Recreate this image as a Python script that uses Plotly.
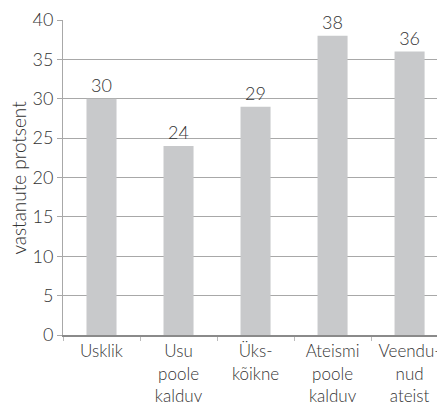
import plotly.graph_objects as go

categories = ["Usklik", "Usu<br>poole<br>kalduv", "Üks-<br>kõikne", "Ateismi<br>poole<br>kalduv", "Veendu-<br>nud<br>ateist"]
values = [30, 24, 29, 38, 36]
y_ticks = [0, 5, 10, 15, 20, 25, 30, 35, 40]
y_title = "vastanute protsent"

FONT = "Lato"
TXT = "#333333"
# the page body adds an 8px margin, so the figure is sized to fill the rest
W, H = 437, 400
L, R, T, B = 55, 0, 12, 73

fig = go.Figure(go.Bar(
    x=categories, y=values, width=0.39,
    marker=dict(color="#c8c9cb", line=dict(width=0)),
    text=[str(v) for v in values], textposition="outside",
    textfont=dict(family=FONT, size=18, color=TXT, weight=300),
    cliponaxis=False,
))

fig.update_layout(
    width=W, height=H,
    margin=dict(l=L, r=R, t=T, b=B, autoexpand=False),
    paper_bgcolor="white", plot_bgcolor="white",
    showlegend=False,
    font=dict(family=FONT, color=TXT, weight=300),
    annotations=[dict(
        text=y_title, textangle=-90, xref="paper", yref="paper",
        x=-45 / (W - L - R), y=0.5, xanchor="center", yanchor="middle",
        showarrow=False, font=dict(family=FONT, size=19, color=TXT, weight=300),
    )],
)
fig.update_xaxes(
    range=[-0.5, 4.46], automargin=False,
    showgrid=False, showline=True, linecolor="#8a8a8a", linewidth=2,
    ticks="outside", tickson="boundaries", ticklen=4, tickcolor="#bbbbbb",
    ticklabelstandoff=0,
    tickfont=dict(family=FONT, size=17, color=TXT, weight=300),
)
fig.update_yaxes(
    range=[0, 40], tickvals=y_ticks, automargin=False,
    showgrid=True, gridcolor="#a8a8a8", gridwidth=1,
    showline=True, linecolor="#a8a8a8", linewidth=1, zeroline=False,
    ticks="outside", ticklen=5, tickcolor="#a8a8a8",
    tickfont=dict(family=FONT, size=18, color=TXT, weight=300),
)

fig.write_html("out.html")
